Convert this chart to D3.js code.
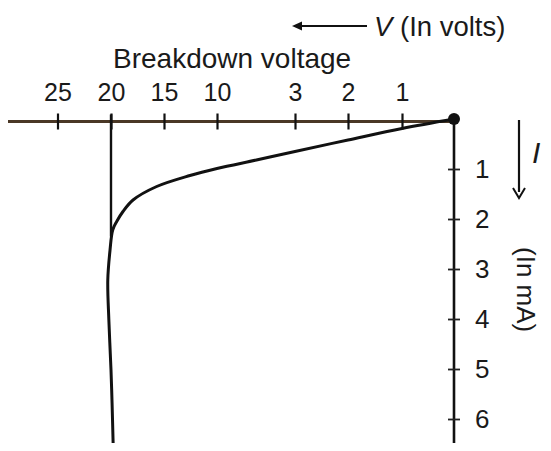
<!DOCTYPE html>
<html><head><meta charset="utf-8">
<script src="https://cdn.jsdelivr.net/npm/d3@7"></script>
<style>
body{margin:0;background:#fff;}
svg{display:block;}
text{font-family:"Liberation Sans",Arial,sans-serif;fill:#1a1a1a;}
</style></head>
<body>
<svg id="c" width="551" height="451"></svg>
<script>
// ---- data ----
const voltTicks = [25, 20, 15, 10, 3, 2, 1];
const currentTicks = [1, 2, 3, 4, 5, 6];
const breakdownV = 20;
// reverse-bias characteristic (V in volts, I in mA)
const curveV = [0, 1, 2, 3, 6.46, 10, 12.55, 15.69, 17.92, 18.87, 19.46, 19.84, 20.09, 20.3, 20.2, 20.0, 19.9, 19.8];
const curveI = [0, 0.19, 0.42, 0.65, 0.82, 0.99, 1.13, 1.35, 1.62, 1.85, 2.05, 2.22, 2.62, 3.22, 4.02, 5.02, 5.68, 6.48];

// ---- scales (broken voltage scale) ----
const x = d3.scaleLinear()
  .domain([0, 1, 2, 3, 10, 15, 20, 25])
  .range([454, 402, 348, 295, 217, 164, 111, 57.5]);
const y = d3.scaleLinear().domain([0, 6]).range([119, 419]);
const axisY = 121.5;

const svg = d3.select("#c");

// horizontal axis line
svg.append("line").attr("x1", 8).attr("x2", x(0)).attr("y1", axisY).attr("y2", axisY)
  .attr("stroke", "#4a3826").attr("stroke-width", 3.2);

const gx = svg.append("g").attr("transform", `translate(0,${axisY})`)
  .call(d3.axisTop(x).tickValues(voltTicks).tickSize(8).tickPadding(13).tickFormat(d3.format("d")));
gx.select(".domain").remove();
gx.selectAll(".tick line").attr("y1", 8).attr("y2", -8).attr("stroke", "#111").attr("stroke-width", 2.2);
gx.selectAll(".tick text").attr("font-size", 25).attr("fill", "#1a1a1a")
  .attr("font-family", "'Liberation Sans',Arial,sans-serif");

// vertical axis line
svg.append("line").attr("x1", x(0)).attr("x2", x(0)).attr("y1", y(0)).attr("y2", 443)
  .attr("stroke", "#111").attr("stroke-width", 2.6);
const gy = svg.append("g").attr("transform", `translate(${x(0)},0)`)
  .call(d3.axisRight(y).tickValues(currentTicks).tickSize(6).tickPadding(15).tickFormat(d3.format("d")));
gy.select(".domain").remove();
gy.selectAll(".tick line").attr("x1", -6).attr("x2", 6).attr("stroke", "#222").attr("stroke-width", 1.8);
gy.selectAll(".tick text").attr("font-size", 26).attr("fill", "#1a1a1a")
  .attr("font-family", "'Liberation Sans',Arial,sans-serif");

// breakdown vertical line
svg.append("line").attr("x1", x(breakdownV)).attr("x2", x(breakdownV))
  .attr("y1", axisY - 7).attr("y2", y(2.35)).attr("stroke", "#111").attr("stroke-width", 2.4);

// curve
const pts = curveV.map((v, i) => [v, curveI[i]]);
svg.append("path").datum(pts)
  .attr("fill", "none").attr("stroke", "#111").attr("stroke-width", 3)
  .attr("d", d3.line().x(d => x(d[0])).y(d => y(d[1])).curve(d3.curveCatmullRom.alpha(0.5)));

// origin dot
svg.append("circle").attr("cx", x(0)).attr("cy", y(0)).attr("r", 6).attr("fill", "#111");

// labels
svg.append("text").attr("x", 113).attr("y", 68).attr("font-size", 28).text("Breakdown voltage");

const vl = svg.append("text").attr("x", 374).attr("y", 36).attr("font-size", 27.5);
vl.append("tspan").attr("font-style", "italic").text("V");
vl.append("tspan").text(" (In volts)");

// left arrow for V
svg.append("line").attr("x1", 367).attr("x2", 298).attr("y1", 26).attr("y2", 26)
  .attr("stroke", "#111").attr("stroke-width", 2.2);
svg.append("path").attr("d", "M292,26 L302,21.5 L302,30.5 Z").attr("fill", "#111");

// down arrow for I
svg.append("line").attr("x1", 519).attr("x2", 519).attr("y1", 120).attr("y2", 192)
  .attr("stroke", "#111").attr("stroke-width", 2.2);
svg.append("path").attr("d", "M513,188 L519,198 L525,188").attr("fill", "none")
  .attr("stroke", "#111").attr("stroke-width", 2);
svg.append("text").attr("x", 532).attr("y", 163).attr("font-size", 30)
  .attr("font-family", "'Liberation Serif','Times New Roman',serif").attr("font-style", "italic").text("I");

// (In mA) rotated
svg.append("text").attr("transform", "translate(517,247) rotate(90)")
  .attr("font-size", 26).text("(In mA)");
</script>
</body></html>
